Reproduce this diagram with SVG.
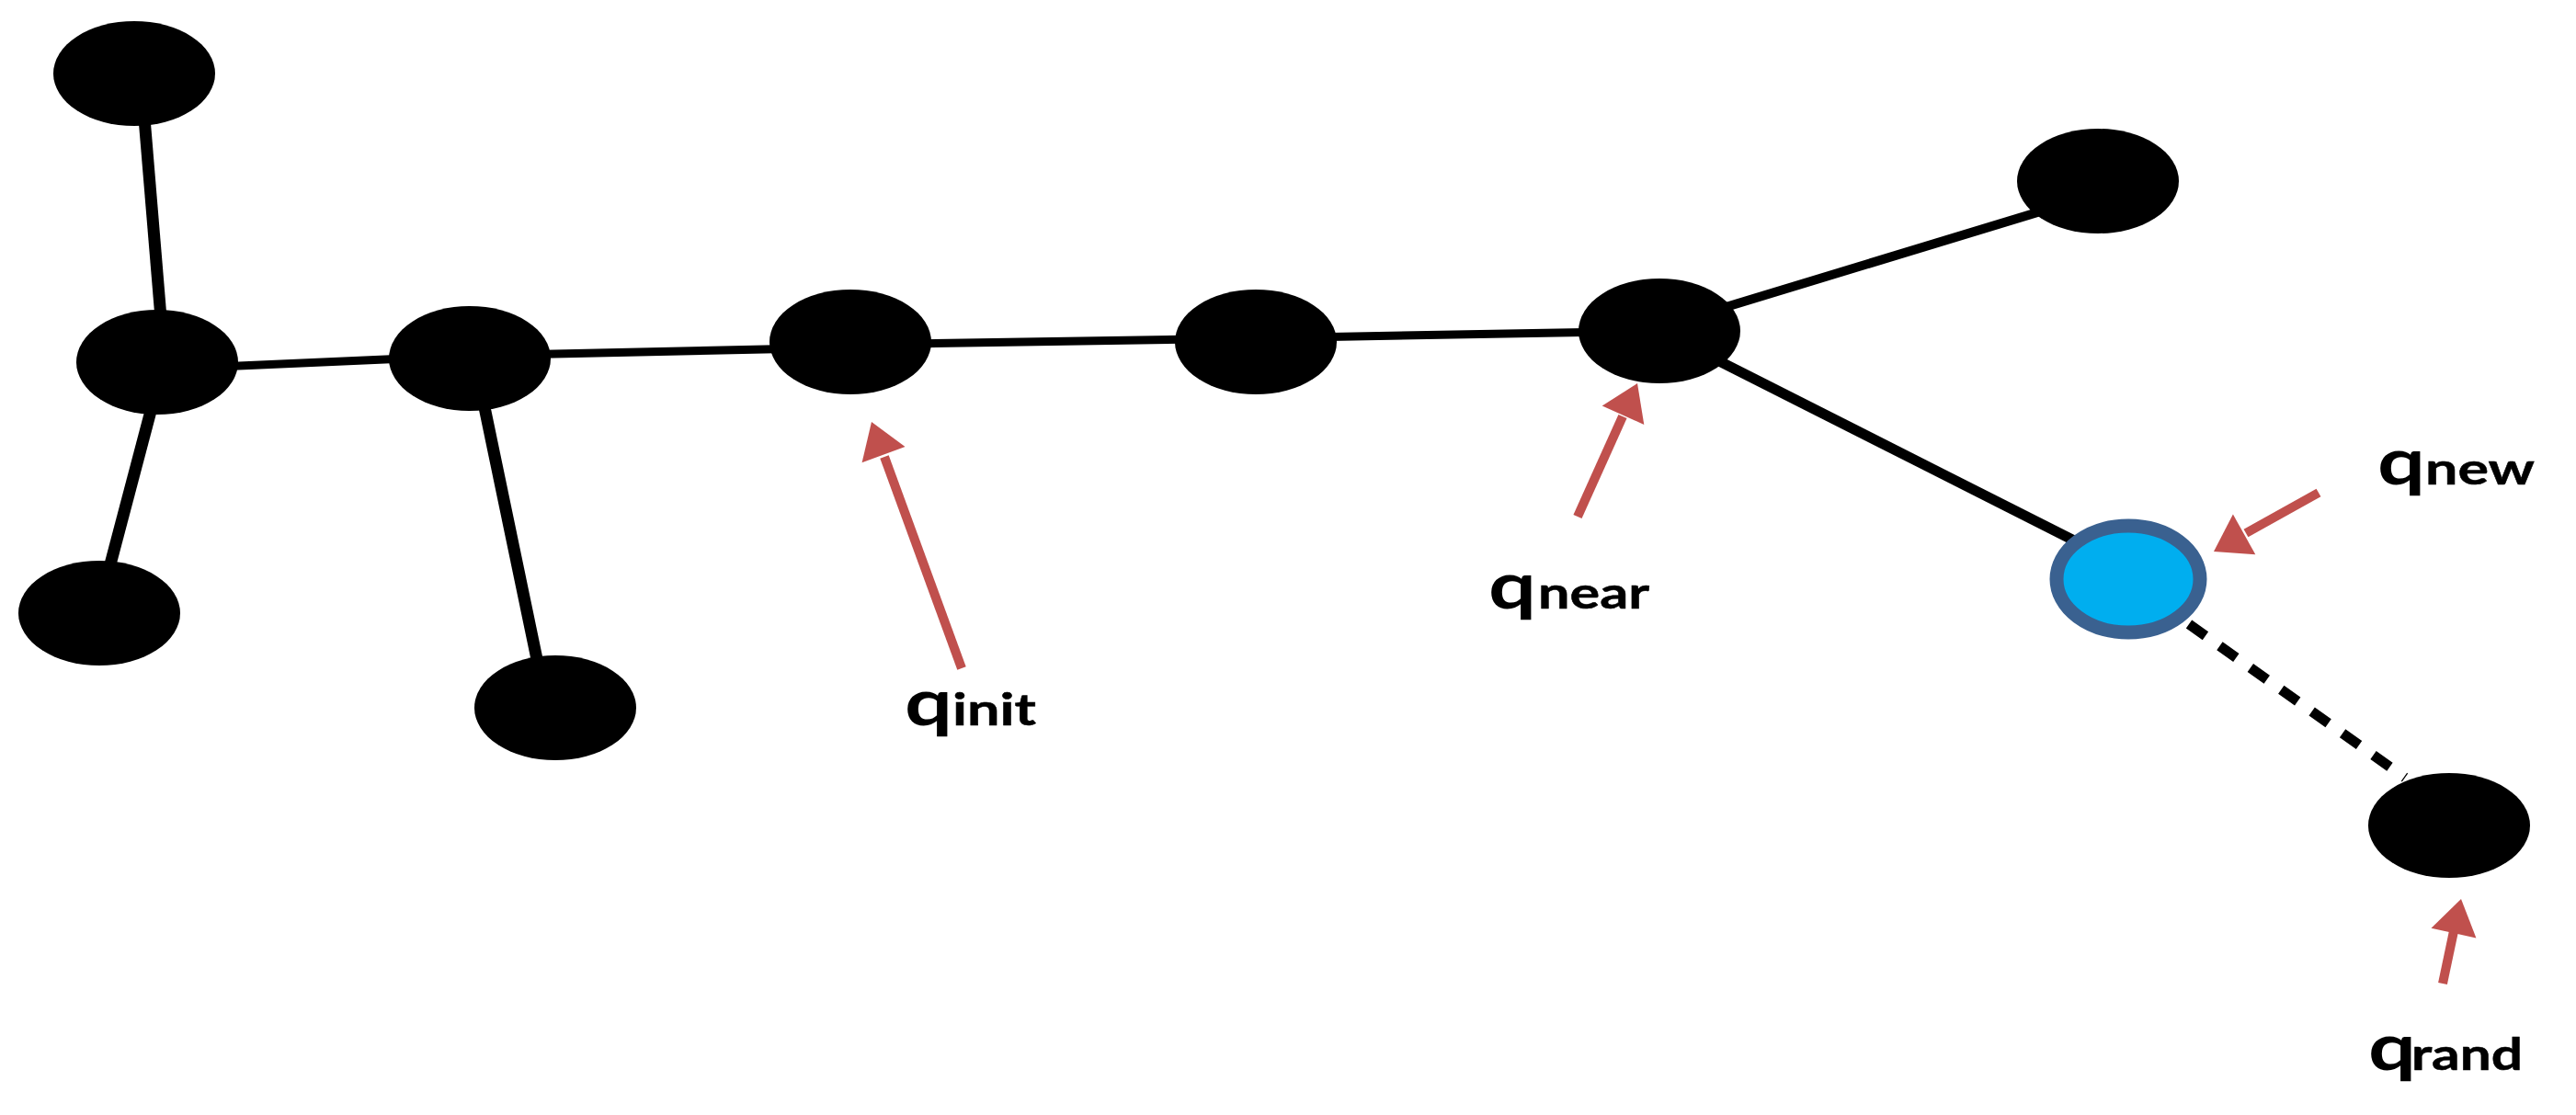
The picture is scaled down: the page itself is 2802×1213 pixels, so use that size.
<svg xmlns="http://www.w3.org/2000/svg" width="2802" height="1213" viewBox="0 0 2802 1213">
  <style>
    .edge { stroke: #000; fill: none; stroke-linecap: butt; }
    .node { fill: #000; }
    .ptr { stroke: #C0504D; stroke-width: 10; fill: none; }
    .head { fill: #C0504D; stroke: none; }
    .q { font-family: Lato, "Open Sans", "Liberation Sans", sans-serif; font-weight: bold; font-size: 70px; fill: #000; }
    .sub { font-family: Lato, "Open Sans", "Liberation Sans", sans-serif; font-weight: bold; font-size: 48px; fill: #000; stroke: #000; stroke-width: 0.5; }
  </style>
  <rect width="2802" height="1213" fill="#fff"/>

  <g id="connectors">
    <line class="edge" x1="153" y1="80" x2="179" y2="394" stroke-width="13"/>
    <line class="edge" x1="178" y1="394" x2="106" y2="667" stroke-width="13"/>
    <line class="edge" x1="171" y1="402" x2="511" y2="387" stroke-width="9"/>
    <line class="edge" x1="516" y1="390" x2="595" y2="770" stroke-width="13"/>
    <line class="edge" x1="511" y1="387" x2="925" y2="378" stroke-width="9"/>
    <line class="edge" x1="925" y1="375" x2="1366" y2="368" stroke-width="9"/>
    <line class="edge" x1="1366" y1="368" x2="1805" y2="360" stroke-width="9"/>
    <line class="edge" x1="1805" y1="356" x2="2282" y2="211" stroke-width="10"/>
    <line class="edge" x1="1805" y1="360" x2="2256" y2="588" stroke-width="11"/>
    <line class="edge" x1="2381" y1="679" x2="2616" y2="846" stroke-width="11" stroke-dasharray="22 19"/>
  </g>

  <g id="node-a"><ellipse class="node" cx="146" cy="80" rx="88" ry="57"/></g>
  <g id="node-b"><ellipse class="node" cx="171" cy="394" rx="88" ry="57"/></g>
  <g id="node-c"><ellipse class="node" cx="108" cy="667" rx="88" ry="57"/></g>
  <g id="node-d"><ellipse class="node" cx="511" cy="390" rx="88" ry="57"/></g>
  <g id="node-e"><ellipse class="node" cx="604" cy="770" rx="88" ry="57"/></g>
  <g id="node-qinit"><ellipse class="node" cx="925" cy="372" rx="88" ry="57"/></g>
  <g id="node-g"><ellipse class="node" cx="1366" cy="372" rx="88" ry="57"/></g>
  <g id="node-qnear"><ellipse class="node" cx="1805" cy="360" rx="88" ry="57"/></g>
  <g id="node-i"><ellipse class="node" cx="2282" cy="197" rx="88" ry="57"/></g>
  <g id="node-qnew"><ellipse cx="2315" cy="630" rx="78" ry="58" fill="#00AEEF" stroke="#3A6190" stroke-width="15"/></g>
  <g id="node-qrand"><ellipse class="node" cx="2664" cy="898" rx="88" ry="57"/></g>

  <g id="pointers">
    <line class="ptr" x1="1046" y1="727" x2="962" y2="497"/>
    <polygon class="head" points="948,459 984.5,486.1 937.6,503.3"/>
    <line class="ptr" x1="1716" y1="562" x2="1765" y2="453"/>
    <polygon class="head" points="1781,417 1788.3,461.9 1742.7,441.5"/>
    <line class="ptr" x1="2522" y1="536" x2="2443" y2="580"/>
    <polygon class="head" points="2408,600 2428.9,559.6 2453.3,603.2"/>
    <line class="ptr" x1="2657" y1="1070" x2="2669" y2="1013" stroke-width="9"/>
    <polygon class="head" points="2677,978 2693.4,1020.4 2644.5,1009.8"/>
  </g>

  <g id="label-qinit">
    <text class="q" x="984" y="789" textLength="52" lengthAdjust="spacingAndGlyphs">q</text>
    <text class="sub" x="1036" y="789" textLength="91" lengthAdjust="spacingAndGlyphs">init</text>
  </g>
  <g id="label-qnear">
    <text class="q" x="1619" y="662" textLength="52" lengthAdjust="spacingAndGlyphs">q</text>
    <text class="sub" x="1673" y="662" textLength="121" lengthAdjust="spacingAndGlyphs">near</text>
  </g>
  <g id="label-qnew">
    <text class="q" x="2586" y="527" textLength="52" lengthAdjust="spacingAndGlyphs">q</text>
    <text class="sub" x="2638" y="527" textLength="119" lengthAdjust="spacingAndGlyphs">new</text>
  </g>
  <g id="label-qrand">
    <text class="q" x="2576" y="1164" textLength="52" lengthAdjust="spacingAndGlyphs">q</text>
    <text class="sub" x="2623" y="1164" textLength="121" lengthAdjust="spacingAndGlyphs">rand</text>
  </g>
</svg>
